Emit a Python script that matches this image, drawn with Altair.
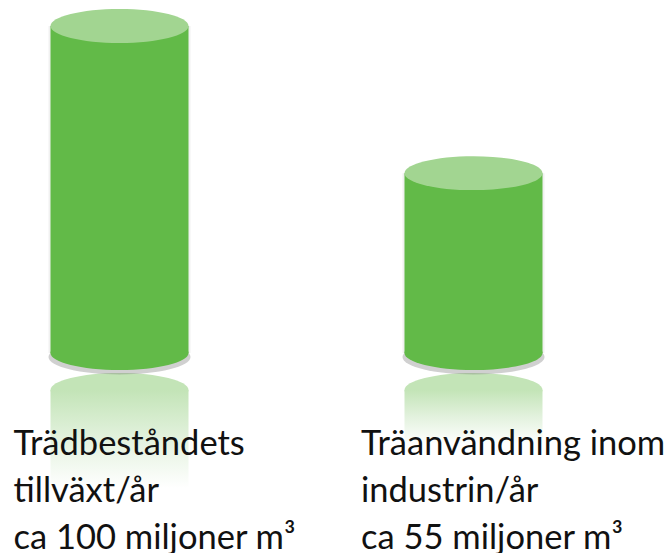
import altair as alt
import pandas as pd

categories = ["Trädbeståndet", "Träanvändning"]
values = [100, 55]
label_lines_1 = ["Trädbeståndets", "tillväxt/år", "ca 100 miljoner m³"]
label_lines_2 = ["Träanvändning inom", "industrin/år", "ca 55 miljoner m³"]

BODY = "#62BA48"
TOP = "#A2D591"
ELLIPSE = "M-1,0A1,0.246,0,1,0,1,0A1,0.246,0,1,0,-1,0Z"
W, H = 577, 529
CYL = 138

df = pd.DataFrame({"cat": categories, "value": values})
df["zero"] = 0.0
df["refl_top"] = -11.3
df["refl_bot"] = df["refl_top"] - 0.3 * df["value"]
df["label"] = ["\n".join(label_lines_1), "\n".join(label_lines_2)]

xs = alt.X("cat:N", scale=alt.Scale(type="point", padding=0.315, domain=categories), axis=None)
ysc = alt.Scale(domain=[-56.27, 105.5], nice=False, zero=False)

def Y(f):
    return alt.Y(f"{f}:Q", scale=ysc, axis=None)

base = alt.Chart(df)

refl_ell = base.mark_point(shape=ELLIPSE, size=CYL * CYL, filled=True, opacity=1,
                           color="#C3E4B7", strokeWidth=0).encode(x=xs, y=Y("refl_top"))
refl_rect = base.mark_bar(size=CYL, color=alt.LinearGradient(
    gradient="linear", x1=0, x2=0, y1=0, y2=1,
    stops=[alt.GradientStop(color="#C3E4B7", offset=0),
           alt.GradientStop(color="#E3F2DE", offset=0.5),
           alt.GradientStop(color="#FFFFFF", offset=1)])).encode(
    x=xs, y=Y("refl_top"), y2="refl_bot:Q")
side_shadow = base.mark_bar(size=CYL + 4, color="#888888", opacity=0.12).encode(
    x=xs, y=Y("value"), y2="zero:Q")
bot_shadow = base.mark_point(shape=ELLIPSE, size=(CYL + 4) ** 2, filled=True, opacity=0.35,
                             color="#777777", strokeWidth=0, yOffset=4).encode(x=xs, y=Y("zero"))
bot_ell = base.mark_point(shape=ELLIPSE, size=CYL * CYL, filled=True, opacity=1,
                          color=BODY, strokeWidth=0).encode(x=xs, y=Y("zero"))
body = base.mark_bar(size=CYL, color=BODY).encode(x=xs, y=Y("value"), y2="zero:Q")
top_ell = base.mark_point(shape=ELLIPSE, size=CYL * CYL, filled=True, opacity=1,
                          color=TOP, strokeWidth=0).encode(x=xs, y=Y("value"))

def text_layer(cat, dx):
    return base.transform_filter(alt.datum.cat == cat).mark_text(
        align="left", baseline="alphabetic", font="Lato", fontSize=34.5,
        lineHeight=47, lineBreak="\n", color="#111111", dx=dx).encode(
        x=xs, y=alt.value(446.5), text="label:N")

chart = alt.layer(
    refl_ell, refl_rect, side_shadow, bot_shadow, bot_ell, body, top_ell,
    text_layer(categories[0], -106), text_layer(categories[1], -112.5)
).properties(
    width=W, height=H,
    padding={"left": 0, "right": 79, "top": 0, "bottom": 16},
    autosize=alt.AutoSizeParams(type="none"),
).configure_view(stroke=None)

chart.save("out.html", embed_options={"renderer": "svg", "actions": False})
